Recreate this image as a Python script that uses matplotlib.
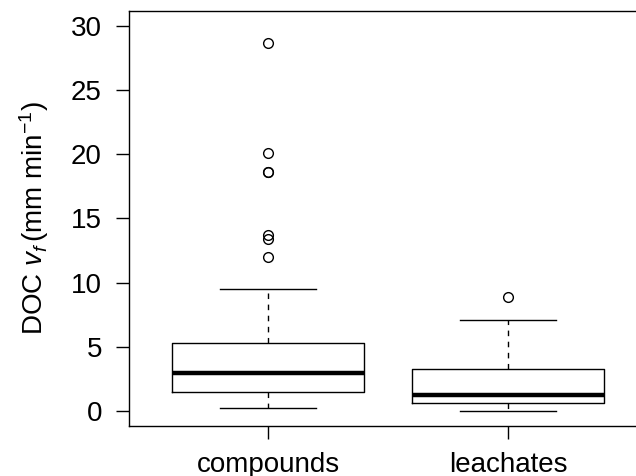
import matplotlib
matplotlib.use("Agg")
import matplotlib.pyplot as plt

plt.rcParams['font.family'] = ['Liberation Sans', 'DejaVu Sans']
plt.rcParams['mathtext.fontset'] = 'custom'
plt.rcParams['mathtext.rm'] = 'Liberation Sans'
plt.rcParams['mathtext.it'] = 'Liberation Sans:italic'

# values
groups = ['compounds', 'leachates']
q1 = [1.48, 0.60]
medians = [2.92, 1.20]
q3 = [5.26, 3.28]
whis_lo = [0.19, 0.0]
whis_hi = [9.49, 7.07]
fliers = [[28.7, 20.15, 18.65, 18.6, 13.7, 13.37, 12.0],
          [8.9]]
yticks = [0, 5, 10, 15, 20, 25, 30]

stats = []
for i, name in enumerate(groups):
    stats.append({'label': name, 'q1': q1[i], 'med': medians[i], 'q3': q3[i],
                  'whislo': whis_lo[i], 'whishi': whis_hi[i], 'fliers': fliers[i]})

fig = plt.figure(figsize=(6.36, 4.76), dpi=100)
ax = fig.add_axes([129 / 636, 50 / 476, 518.4 / 636, 415 / 476])

ax.bxp(stats, positions=[1, 2], widths=0.8, showfliers=True,
       boxprops=dict(color='black', linewidth=1.0),
       medianprops=dict(color='black', linewidth=3.2, solid_capstyle='butt'),
       whiskerprops=dict(color='black', linewidth=1.0, linestyle=(0, (4, 4))),
       capprops=dict(color='black', linewidth=1.0),
       capwidths=0.4,
       flierprops=dict(marker='o', markersize=7, markerfacecolor='none',
                       markeredgecolor='black', markeredgewidth=1.0))

ax.set_xlim(0.42, 2.58)
ax.set_ylim(-1.2, 31.2)
ax.set_yticks(yticks)
ax.set_xticks([1, 2])
ax.set_xticklabels(groups)
ax.tick_params(axis='both', labelsize=20, length=9.5, width=1.0, colors='black')
ax.tick_params(axis='y', pad=10)
ax.tick_params(axis='x', pad=9)
for sp in ax.spines.values():
    sp.set_linewidth(1.0)

ax.set_ylabel(r'DOC $\mathit{v_f}\,$(mm min$^{-1}$)', fontsize=20, labelpad=14)

fig.savefig('out.png', dpi=100)
